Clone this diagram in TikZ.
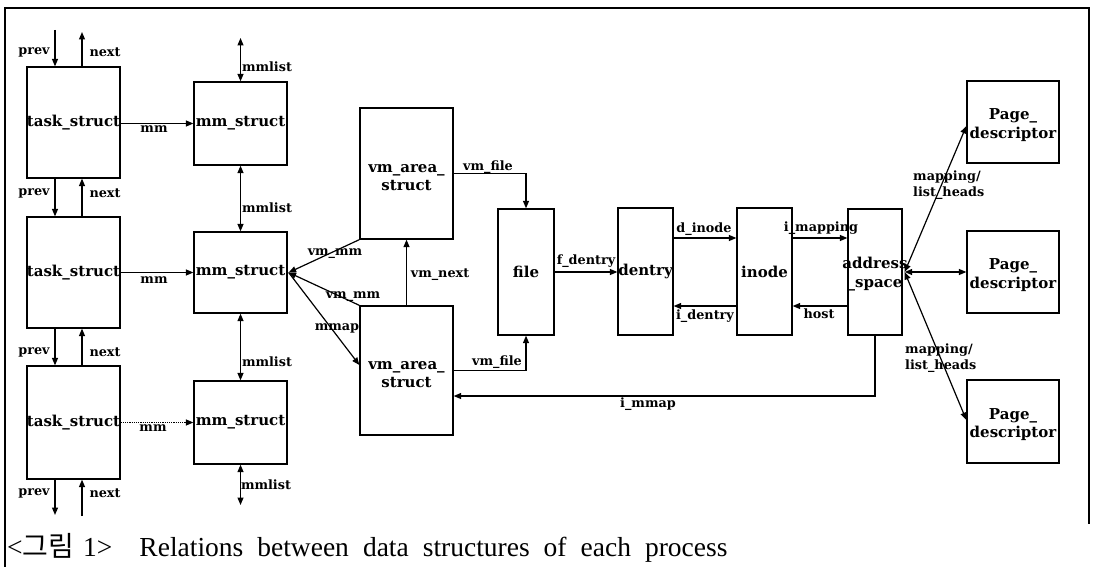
\documentclass[tikz,border=0pt]{standalone}
\usepackage{fontspec}
\setmainfont{Liberation Serif}
\newfontfamily\dfont{DejaVu Serif}
\newfontfamily\kfont{Noto Sans CJK KR}
\usetikzlibrary{arrows.meta}
\tikzset{
  box/.style={draw, line width=1.3pt, inner sep=0pt},
  boxtext/.style={font=\dfont\bfseries\fontsize{15}{18.5}\selectfont, align=center, inner sep=0pt},
  lbl/.style={font=\dfont\bfseries\fontsize{12.8}{15.5}\selectfont, inner sep=0pt},
  arr/.style={-{Triangle[length=7.5pt,width=6pt]}, line width=1.2pt},
  darr/.style={{Triangle[length=7.5pt,width=6pt]}-{Triangle[length=7.5pt,width=6pt]}, line width=1.2pt},
  frame/.style={line width=1.1pt}
}
\begin{document}
\begin{tikzpicture}[x=1pt,y=-1pt]
\useasboundingbox (0,0) rectangle (1094,567);
% frame
\coordinate (fa) at (5,567);
\coordinate (fb) at (5,8);
\coordinate (fc) at (1089,8);
\coordinate (fd) at (1089,524);
\draw[frame] (fa) -- (fb) -- (fc) -- (fd);

% task_struct boxes
\node[box, minimum width=93pt, minimum height=111pt, label={[boxtext]center:task\_struct}] (t1) at (73.5,122.5) {};
\node[box, minimum width=93pt, minimum height=111pt, label={[boxtext]center:task\_struct}] (t2) at (73.5,272.5) {};
\node[box, minimum width=93pt, minimum height=113pt, label={[boxtext]center:task\_struct}] (t3) at (73.5,422.5) {};
% mm_struct boxes
\node[box, minimum width=93pt, minimum height=83pt, label={[boxtext]center:mm\_struct}] (m1) at (240.5,123.5) {};
\node[box, minimum width=93pt, minimum height=81pt, label={[boxtext]center:mm\_struct}] (m2) at (240.5,272.5) {};
\node[box, minimum width=93pt, minimum height=83pt, label={[boxtext]center:mm\_struct}] (m3) at (240.5,422.5) {};
% vm_area_struct
\node[box, minimum width=93pt, minimum height=131pt, label={[boxtext, yshift=-4pt]center:vm\_area\_\\struct}] (v1) at (406.5,173.5) {};
\node[box, minimum width=93pt, minimum height=129pt, label={[boxtext, yshift=-4pt]center:vm\_area\_\\struct}] (v2) at (406.5,370.5) {};
% file, dentry, inode, address_space
\node[box, minimum width=56pt, minimum height=126pt, label={[boxtext]center:file}] (file) at (526,272) {};
\node[box, minimum width=55pt, minimum height=127pt, label={[boxtext]center:dentry}] (dentry) at (645.5,271.5) {};
\node[box, minimum width=55pt, minimum height=127pt, label={[boxtext]center:inode}] (inode) at (764.5,271.5) {};
\node[box, minimum width=54pt, minimum height=126pt, label={[boxtext, yshift=-2pt]center:address\\\_space}] (as) at (875,272) {};
% page descriptors
\node[box, minimum width=92pt, minimum height=82pt, label={[boxtext, yshift=-3pt]center:Page\_\\descriptor}] (p1) at (1013,122) {};
\node[box, minimum width=92pt, minimum height=82pt, label={[boxtext, yshift=-3pt]center:Page\_\\descriptor}] (p2) at (1013,272) {};
\node[box, minimum width=92pt, minimum height=83pt, label={[boxtext, yshift=-3pt]center:Page\_\\descriptor}] (p3) at (1013,421.5) {};

% free ends
\coordinate (prevtop) at (55,30);
\coordinate (nexttop) at (82,32);
\coordinate (prevbot) at (55,515);
\coordinate (nextbot) at (82,516);
\coordinate (mltop) at (240.5,38);
\coordinate (mlbot) at (240.5,505);

% prev/next
\draw[arr] (prevtop) -- ([xshift=-18.5pt]t1.north);
\draw[arr] ([xshift=8.5pt]t1.north) -- (nexttop);
\draw[arr] ([xshift=-18.5pt]t1.south) -- ([xshift=-18.5pt]t2.north);
\draw[arr] ([xshift=8.5pt]t2.north) -- ([xshift=8.5pt]t1.south);
\draw[arr] ([xshift=-18.5pt]t2.south) -- ([xshift=-18.5pt]t3.north);
\draw[arr] ([xshift=8.5pt]t3.north) -- ([xshift=8.5pt]t2.south);
\draw[arr] ([xshift=-18.5pt]t3.south) -- (prevbot);
\draw[arr] (nextbot) -- ([xshift=8.5pt]t3.south);
\foreach \y in {52,193,352,493}{
  \node[lbl] at (34,\y) {prev};
  \node[lbl] at (105,\y) {next};
}
% mm
\draw[arr] (m1.west -| t1.east) -- (m1.west);
\draw[arr] (m2.west -| t2.east) -- (m2.west);
\draw[arr, densely dotted] (m3.west -| t3.east) -- (m3.west);
\node[lbl] at (154,129) {mm};
\node[lbl] at (154,280) {mm};
\node[lbl] at (153,428) {mm};
% mmlist
\draw[darr] (mltop) -- (m1.north);
\draw[darr] (m1.south) -- (m2.north);
\draw[darr] (m2.south) -- (m3.north);
\draw[darr] (m3.south) -- (mlbot);
\node[lbl] at (267,67) {mmlist};
\node[lbl] at (267,208) {mmlist};
\node[lbl] at (267,362) {mmlist};
\node[lbl] at (266,485) {mmlist};

% vm_area links
\draw[arr] (v1.south west) -- ([xshift=1pt]m2.east);
\draw[arr] (v2.north west) -- ([xshift=1pt]m2.east);
\draw[arr] ([xshift=1pt]m2.east) -- ([yshift=5.5pt]v2.west);
\draw[arr] (v2.north) -- (v1.south);
\node[lbl] at (335,254) {vm\_mm};
\node[lbl] at (353,297) {vm\_mm};
\node[lbl] at (337,328) {mmap};
\node[lbl] at (440,275) {vm\_next};

% vm_file
\draw[arr] (v1.east) -| (file.north);
\draw[arr] (v2.east) -| (file.south);
\node[lbl] at (488,167) {vm\_file};
\node[lbl] at (497,362) {vm\_file};

% i_mmap
\draw[arr] (as.south) |- ([yshift=-25.5pt]v2.east);
\node[lbl] at (648,404) {i\_mmap};

% file -> dentry
\draw[arr] (file.east) -- (file.east -| dentry.west);
\node[lbl] at (586,261) {f\_dentry};
% dentry <-> inode
\draw[arr] ([yshift=33.5pt]dentry.east) -- ([yshift=33.5pt]inode.west);
\draw[arr] ([yshift=-34.5pt]inode.west) -- ([yshift=-34.5pt]dentry.east);
\node[lbl] at (704,229) {d\_inode};
\node[lbl] at (705,316) {i\_dentry};
% inode <-> address_space
\draw[arr] ([yshift=33.5pt]inode.east) -- ([yshift=33.5pt]inode.east -| as.west);
\draw[arr] ([yshift=-34.5pt]inode.east -| as.west) -- ([yshift=-34.5pt]inode.east);
\node[lbl] at (821,228) {i\_mapping};
\node[lbl] at (819,314) {host};

% address_space <-> pages
\draw[darr] ([xshift=2pt]as.east) -- ([yshift=-4pt]p1.west);
\draw[darr] ([xshift=2pt]as.east) -- (p2.west);
\draw[darr] ([xshift=2pt]as.east) -- ([yshift=1.5pt]p3.west);
\node[lbl, align=left, anchor=west] at (913,185) {mapping/\\list\_heads};
\node[lbl, align=left, anchor=west] at (905,358) {mapping/\\list\_heads};

% caption
\node[anchor=base west, inner sep=0pt, font=\fontsize{27.5}{30}\selectfont] (cap) at (7,556)
  {<{\kfont\fontsize{28}{30}\selectfont 그림}\hspace{9pt}1>\hspace{27pt}{\spaceskip=14pt Relations between data structures of each process}};
\end{tikzpicture}
\end{document}
